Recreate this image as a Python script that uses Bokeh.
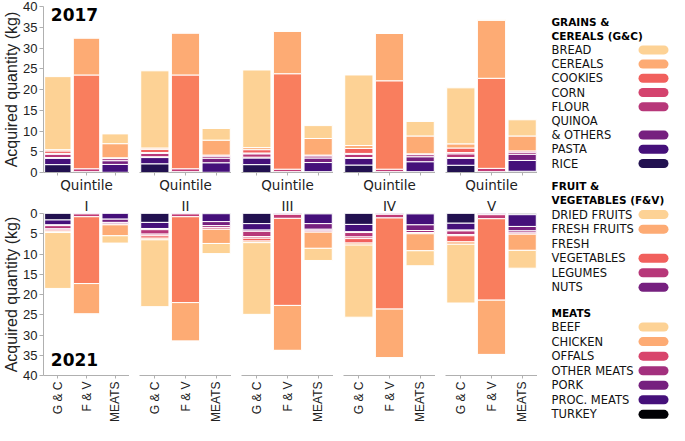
import math
from bokeh.plotting import figure
from bokeh.layouts import row, column
from bokeh.models import Range1d, FactorRange, FixedTicker, ColumnDataSource
from bokeh.embed import file_html
from bokeh.resources import INLINE
from bokeh.core.properties import value

# ---------------- data ----------------
quintiles = ["I", "II", "III", "IV", "V"]
groups = ["G & C", "F & V", "MEATS"]
years = ["2017", "2021"]
yticks = [0, 5, 10, 15, 20, 25, 30, 35, 40]

# legend order (top -> bottom); bars are stacked in reverse order
gc_items = ["BREAD", "CEREALS", "COOKIES", "CORN", "FLOUR", "QUINOA\n& OTHERS", "PASTA", "RICE"]
fv_items = ["DRIED FRUITS", "FRESH FRUITS", "FRESH\nVEGETABLES", "LEGUMES", "NUTS"]
meat_items = ["BEEF", "CHICKEN", "OFFALS", "OTHER MEATS", "PORK", "PROC. MEATS", "TURKEY"]

gc_colors = ["#fdd295", "#fdab74", "#f1605d", "#d4436e", "#b73779", "#76207f", "#45107a", "#221150"]
fv_colors = ["#fdd295", "#fdab74", "#f1605d", "#b73779", "#76207f"]
fv_bar_colors = ["#fdd295", "#fdab74", "#f97e5e", "#c13a76", "#76207f"]
meat_colors = ["#fdd295", "#fdab74", "#d8456c", "#a3307e", "#76207f", "#45107a", "#000004"]

# rows = quintiles I..V, columns = items in legend order (kg)
gc_2017 = [
    [17.6, 0.3, 0.6, 0.2, 0.8, 0.2, 1.5, 1.9],
    [18.6, 0.3, 0.8, 0.2, 0.8, 0.2, 1.5, 2.1],
    [18.7, 0.5, 0.8, 0.2, 0.8, 0.2, 1.6, 1.9],
    [17.0, 0.7, 1.2, 0.2, 0.8, 0.2, 1.6, 1.8],
    [13.5, 1.0, 1.1, 0.3, 0.9, 0.2, 1.65, 1.75],
]
gc_2021 = [
    [13.8, 0.3, 0.3, 0.3, 0.8, 0.2, 1.2, 1.6],
    [16.5, 0.4, 0.6, 0.4, 1.1, 0.3, 1.5, 2.2],
    [17.7, 0.4, 0.7, 0.4, 1.3, 0.3, 1.6, 2.5],
    [17.8, 0.5, 1.1, 0.4, 1.1, 0.2, 1.8, 2.7],
    [14.5, 0.6, 1.5, 0.3, 0.9, 0.2, 1.7, 2.4],
]
fv_2017 = [
    [0.1, 8.9, 22.6, 0.7, 0.2],
    [0.1, 10.1, 22.6, 0.7, 0.2],
    [0.1, 10.2, 23.0, 0.6, 0.2],
    [0.1, 11.4, 21.3, 0.6, 0.2],
    [0.1, 14.0, 21.7, 0.8, 0.2],
]
fv_2021 = [
    [0.1, 7.5, 16.5, 0.7, 0.1],
    [0.1, 9.5, 21.2, 0.7, 0.1],
    [0.1, 11.1, 21.5, 1.0, 0.2],
    [0.1, 12.0, 22.5, 0.9, 0.2],
    [0.1, 13.4, 20.1, 1.0, 0.3],
]
meat_2017 = [
    [2.35, 3.4, 0.2, 0.5, 0.9, 1.9, 0.05],
    [2.8, 3.6, 0.25, 0.5, 1.1, 2.3, 0.05],
    [3.1, 4.0, 0.2, 0.5, 1.1, 2.2, 0.2],
    [3.5, 4.3, 0.2, 0.5, 1.2, 2.4, 0.2],
    [3.9, 3.6, 0.3, 0.5, 1.5, 2.6, 0.3],
]
meat_2021 = [
    [1.8, 2.7, 0.2, 0.4, 0.8, 1.4, 0.0],
    [2.5, 3.5, 0.4, 0.5, 1.0, 1.95, 0.05],
    [3.0, 4.0, 0.3, 0.4, 1.4, 2.4, 0.1],
    [3.7, 4.2, 0.3, 0.5, 1.4, 2.7, 0.1],
    [4.4, 4.0, 0.3, 0.5, 1.1, 2.9, 0.3],
]

data_by_year = {
    "2017": [gc_2017, fv_2017, meat_2017],
    "2021": [gc_2021, fv_2021, meat_2021],
}
group_bar_colors = [gc_colors, fv_bar_colors, meat_colors]

# ---------------- style ----------------
FW, FH = 92, 167
AX = "#b0b0b0"
TXT = "#222222"
SANS = "Liberation Sans"
DJ = "DejaVu Sans"


def stack_source(year, qi):
    xs, bots, tops, cols = [], [], [], []
    for g, rows_, colors in zip(groups, data_by_year[year], group_bar_colors):
        cum = 0.0
        for v, c in zip(reversed(rows_[qi]), reversed(colors)):
            xs.append(g)
            bots.append(cum)
            cum += v
            tops.append(cum)
            cols.append(c)
    return ColumnDataSource(dict(x=xs, bottom=bots, top=tops, color=cols))


def make_fig(yi, qi):
    year = years[yi]
    first = qi == 0
    top_row = yi == 0
    yr = Range1d(0, 40) if top_row else Range1d(40, 0)
    bl = 37 if first else 10
    bt, bb = (6, 22) if top_row else (16, 46)
    p = figure(x_range=FactorRange(*groups), y_range=yr,
               width=bl + FW, height=bt + FH + bb,
               output_backend="svg", toolbar_location=None,
               y_axis_location="left" if first else None,
               min_border_left=bl, min_border_right=0,
               min_border_top=bt, min_border_bottom=bb,
               title=None if top_row else quintiles[qi])
    p.outline_line_color = None
    p.xgrid.visible = False
    p.ygrid.visible = False
    p.background_fill_color = "white"
    p.border_fill_color = "white"

    src = stack_source(year, qi)
    p.vbar(x="x", bottom="bottom", top="top", width=0.92, source=src,
           fill_color="color", line_color="white", line_width=1)

    xa = p.xaxis[0]
    xa.axis_line_color = AX
    xa.major_tick_line_color = AX
    xa.major_tick_out = 3
    xa.major_tick_in = 0
    xa.minor_tick_line_color = None
    if top_row:
        xa.major_label_text_font_size = "1px"
        xa.major_label_text_color = None
        xa.major_label_standoff = 0
        xa.axis_label = "Quintile"
        xa.axis_label_standoff = 1
        xa.axis_label_text_font = DJ
        xa.axis_label_text_font_size = "13.5px"
        xa.axis_label_text_font_style = "normal"
        xa.axis_label_text_color = TXT
    else:
        xa.major_label_orientation = math.pi / 2
        xa.major_label_text_font = SANS
        xa.major_label_text_font_size = "12px"
        xa.major_label_text_color = TXT
        xa.major_label_standoff = 3
        p.title.align = "center"
        p.title.text_font = DJ
        p.title.text_font_size = "13.5px"
        p.title.text_font_style = "normal"
        p.title.text_color = TXT
        p.title.standoff = 0

    if first:
        ya = p.yaxis[0]
        ya.ticker = FixedTicker(ticks=yticks)
        ya.axis_line_color = AX
        ya.major_tick_line_color = AX
        ya.major_tick_out = 4
        ya.major_tick_in = 0
        ya.minor_tick_line_color = None
        ya.major_label_text_font = SANS
        ya.major_label_text_font_size = "13px"
        ya.major_label_text_color = TXT
        ya.major_label_standoff = 2
        ya.axis_label = "Acquired quantity (kg)"
        ya.axis_label_standoff = 0
        ya.axis_label_text_font = SANS
        ya.axis_label_text_font_size = "16px"
        ya.axis_label_text_font_style = "normal"
        ya.axis_label_text_color = TXT
        ysrc = ColumnDataSource(dict(x=[groups[0]], y=[38 if top_row else 36.0], t=[year]))
        p.text(x="x", y="y", text="t", source=ysrc, x_offset=-7,
               text_align="left", text_baseline="middle",
               text_font=value(DJ), text_font_style="bold",
               text_font_size="17px", text_color="#000000")
    return p


rows_figs = []
for yi in range(2):
    rows_figs.append(row(*[make_fig(yi, qi) for qi in range(5)]))
grid = column(*rows_figs)

# ---------------- legend ----------------
LW, LH = 132, 425
lg = figure(x_range=Range1d(0, LW), y_range=Range1d(LH, 0),
            width=LW, height=LH, output_backend="svg",
            toolbar_location=None, x_axis_location=None, y_axis_location=None,
            min_border=0)
lg.outline_line_color = None
lg.xgrid.visible = False
lg.ygrid.visible = False

legend_groups = [
    ("GRAINS &\nCEREALS (G&C)", gc_items, gc_colors, 21.0, 14.2),
    ("FRUIT &\nVEGETABLES (F&V)", fv_items, fv_colors, 185.0, 14.55),
    ("MEATS", meat_items, meat_colors, 312.0, 14.55),
]
hx, hy, ht = [], [], []
tx, ty, tt = [], [], []
sx0, sx1, sy, sc = [], [], [], []
TX = 14
for header, items, colors, y0, sp in legend_groups:
    line = 0
    for h in header.split("\n"):
        hx.append(TX); hy.append(y0 + line * sp); ht.append(h)
        line += 1
    for it, c in zip(items, colors):
        for part in it.split("\n"):
            tx.append(TX); ty.append(y0 + line * sp); tt.append(part)
            line += 1
        sx0.append(105.5); sx1.append(126.5); sy.append(y0 + (line - 1) * sp); sc.append(c)

lg.text(x=hx, y=hy, text=ht, text_align="left", text_baseline="middle",
        text_font=value(DJ), text_font_style="bold", text_font_size="10.5px",
        text_color="#000000")
lg.text(x=tx, y=ty, text=tt, text_align="left", text_baseline="middle",
        text_font=value(DJ), text_font_size="11.5px", text_color="#111111")
lg.segment(x0=sx0, y0=sy, x1=sx1, y1=sy, line_color=sc, line_width=9,
           line_cap="round")

layout = row(grid, lg)
open("out.html", "w").write(file_html(layout, INLINE))
